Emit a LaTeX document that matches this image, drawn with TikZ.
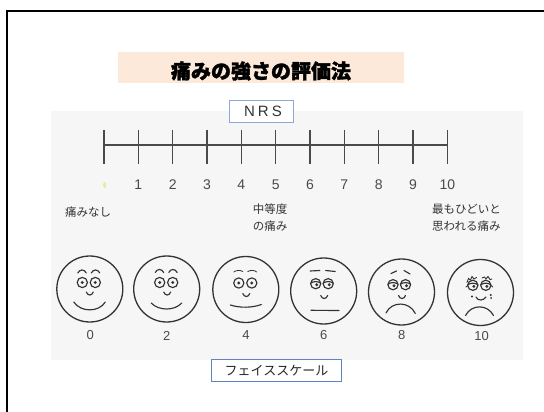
\documentclass[tikz,border=0pt]{standalone}
\usepackage{fontspec}
\newfontfamily\jpfont{Noto Sans CJK JP}
\newfontfamily\jptitlefont{Noto Sans CJK JP}[BoldFeatures={FakeBold=1.6}]
\newfontfamily\latfont{Liberation Sans}
\newfontfamily\nrsfont{Liberation Sans}[LetterSpace=20]
\definecolor{peach}{HTML}{FDE9D9}
\definecolor{panel}{HTML}{F6F6F6}
\definecolor{ink}{HTML}{333333}
\definecolor{numgray}{HTML}{4A4A4A}
\definecolor{nrsblue}{HTML}{8DAAD6}
\definecolor{scaleblue}{HTML}{5F84C4}
\definecolor{dotyellow}{HTML}{E4ED9C}

% eye with a centred pupil
\newcommand\plaineye[1]{%
  \begin{scope}[shift={(#1)}]
    \draw[featurestroke] (0,0) circle[radius=5.1pt];
    \fill[ink] (0,0) circle[radius=1.6pt];
  \end{scope}}
% half-closed eye: lid line across the top, pupil below it
\newcommand\lideye[1]{%
  \begin{scope}[shift={(#1)}]
    \draw[featurestroke] (0,0) circle[radius=5.1pt];
    \draw[featurestroke] (-5,-0.6) .. controls (-2,-2.6) and (2,-2.6) .. (5,-0.6);
    \fill[ink] (1,1.1) circle[radius=1.6pt];
  \end{scope}}

\begin{document}
\begin{tikzpicture}[x=1pt,y=-1pt,
  facestroke/.style={draw=ink, line width=1.3pt},
  featurestroke/.style={draw=ink, line width=1.15pt, line cap=round},
  axisline/.style={draw=numgray, line width=1.4pt},
  ticklabel/.style={font=\latfont\fontsize{14}{16}\selectfont, text=numgray, inner sep=0pt},
  facelabel/.style={font=\latfont\fontsize{13}{15}\selectfont, text=numgray, inner sep=0pt},
  jplabel/.style={font=\jpfont\fontsize{11.5}{16.7}\selectfont, text=ink, inner sep=0pt, align=left, anchor=west},
  captionbox/.style={fill=white, line width=0.9pt, inner sep=0pt}
]
\clip (0,0) rectangle (544,412);
\fill[white] (0,0) rectangle (544,412);

% slide frame, running off the right and bottom edges
\draw[line width=2pt, black] (7,430) -- (7,10.7) -- (560,10.7);

% title
\node[fill=peach, minimum width=286pt, minimum height=31pt, inner sep=0pt] (titlebox) at (261,67.5) {};
\node[font=\jptitlefont\bfseries\fontsize{20}{24}\selectfont, inner sep=0pt] (title) at (261,71) {痛みの強さの評価法};

% grey panel holding both scales
\fill[panel] (51,111) rectangle (522.6,360);

% NRS caption
\node[captionbox, draw=nrsblue, minimum width=64pt, minimum height=22.4pt] (nrs) at (261.3,111.5) {};
\node[font=\nrsfont\fontsize{15}{17}\selectfont, text=ink, inner sep=0pt] (nrstext) at (263,111.5) {NRS};

% numeric rating line
\foreach \i in {0,...,10} {
  \coordinate (t\i) at ({104+34.33*\i},145);
}
\draw[axisline] (t0) -- (t10);
\foreach \i in {0,...,10} {
  \draw[axisline] ([yshift=15pt]t\i) -- ([yshift=-19pt]t\i);
}
\foreach \i in {1,...,10} {
  \node[ticklabel] (n\i) at ({104+34.33*\i},185) {\i};
}
\fill[dotyellow] (104.7,185) ellipse [x radius=1.6pt, y radius=3pt];

% verbal anchors
\node[jplabel] (none) at (65,212) {痛みなし};
\node[jplabel] (mid) at (252.7,217.7) {中等度\\の痛み};
\node[jplabel] (worst) at (432,217.7) {最もひどいと\\思われる痛み};

% face 0
\begin{scope}[shift={(89.8,289)}]
  \draw[facestroke] (0,0) circle[radius=33pt];
  \plaineye{-7.5,-6.5}\plaineye{5.5,-6.5}
  \draw[featurestroke] (-12,-16) .. controls (-10,-20) and (-5.5,-20) .. (-3.5,-16);
  \draw[featurestroke] (1.5,-16) .. controls (3.5,-20) and (8,-20) .. (10,-16);
  \draw[featurestroke] (-3.5,3) .. controls (-2,7) and (2,7) .. (3.5,3);
  \draw[featurestroke] (-16,13) .. controls (-9,23.5) and (9,23.5) .. (15.5,13);
\end{scope}
\node[facelabel] (f0) at (90.3,335.5) {0};

% face 2
\begin{scope}[shift={(166.7,289)}]
  \draw[facestroke] (0,0) circle[radius=33pt];
  \plaineye{-7,-6.5}\plaineye{6,-6.5}
  \draw[featurestroke] (-11.5,-16.5) .. controls (-9.5,-20.5) and (-5,-20.5) .. (-3,-16.5);
  \draw[featurestroke] (2,-16.5) .. controls (4,-20.5) and (8.5,-20.5) .. (10.5,-16.5);
  \draw[featurestroke] (-3,3) .. controls (-1.5,7) and (2.5,7) .. (4,3);
  \draw[featurestroke] (-15.5,14) .. controls (-8,22) and (8,22) .. (15,14);
\end{scope}
\node[facelabel] (f2) at (166.7,335.5) {2};

% face 4
\begin{scope}[shift={(245.8,289.5)}]
  \draw[facestroke] (0,0) circle[radius=33pt];
  \plaineye{-7,-6.5}\plaineye{6,-6.5}
  \draw[featurestroke, line width=0.8pt] (-12,-17.5) .. controls (-9.5,-19.5) and (-5.5,-19.5) .. (-3,-18);
  \draw[featurestroke, line width=0.8pt] (2,-18) .. controls (4.5,-19.5) and (8.5,-19.5) .. (11,-17.5);
  \draw[featurestroke] (-3,4) .. controls (-1.5,8) and (2.5,8) .. (4,4);
  \draw[featurestroke] (-15.5,15.5) .. controls (-6,18.5) and (6,18.5) .. (15.5,15);
\end{scope}
\node[facelabel] (f4) at (246,335.5) {4};

% face 6
\begin{scope}[shift={(323.7,291)}]
  \draw[facestroke] (0,0) circle[radius=33pt];
  \lideye{-8,-7.3}\lideye{4.5,-7.3}
  \draw[featurestroke] (-13.5,-20) -- (-4,-20.5);
  \draw[featurestroke] (2,-20.5) -- (11.5,-19.5);
  \draw[featurestroke] (-3,4.5) .. controls (-1.5,8.5) and (2.5,8.5) .. (4,4.5);
  \draw[featurestroke] (-12.7,19.3) -- (15.3,19.5);
\end{scope}
\node[facelabel] (f6) at (323.7,335.5) {6};

% face 8
\begin{scope}[shift={(401.5,292)}]
  \draw[facestroke] (0,0) circle[radius=33pt];
  \lideye{-8.5,-7.3}\lideye{4,-7.3}
  \draw[featurestroke] (-10.5,-18.5) -- (-5,-21);
  \draw[featurestroke] (2.5,-21.5) -- (8.5,-18);
  \draw[featurestroke] (-3,3.5) .. controls (-1.5,7.5) and (2.5,7.5) .. (4,3.5);
  \draw[featurestroke] (-15.5,21) .. controls (-10,9) and (8,9) .. (13.8,21.5);
\end{scope}
\node[facelabel] (f8) at (401.8,335.5) {8};

% face 10
\begin{scope}[shift={(480.5,292.5)}]
  \draw[facestroke] (0,0) circle[radius=33pt];
  \lideye{-7.7,-7.2}\lideye{5.3,-7.2}
  \draw[featurestroke, line width=0.9pt] (-13.5,-10) -- (-12,-14) -- (-10,-12.5) -- (-8.5,-16) -- (-6.5,-13.5) -- (-4,-15);
  \draw[featurestroke, line width=0.9pt] (1.5,-14.5) -- (4,-15.5) -- (5.5,-13.5) -- (7.5,-16) -- (9.5,-13) -- (11.5,-13.5);
  \draw[featurestroke, line width=0.9pt] (-14.5,-5.5) -- (-12.8,-6.8);
  \draw[featurestroke, line width=0.9pt] (10.4,-7) -- (12.3,-5.5);
  \draw[featurestroke] (-4.5,4.5) .. controls (-3,8.5) and (3,8.5) .. (5.5,4.5);
  \fill[ink] (-8.5,4) circle[radius=1.1pt];
  \fill[ink] (10.3,2.5) circle[radius=1.1pt];
  \fill[ink] (10.6,5.5) circle[radius=1.1pt];
  \draw[featurestroke] (-15,23) .. controls (-9,11.5) and (7,11.5) .. (13,23);
\end{scope}
\node[facelabel] (f10) at (481.5,335.8) {10};

% face scale caption
\node[captionbox, draw=scaleblue, minimum width=130pt, minimum height=22pt] (fs) at (276.7,370.3) {};
\node[font=\jpfont\fontsize{13}{15}\selectfont, text=black!85, inner sep=0pt] (fstext) at (276.5,371) {フェイススケール};
\end{tikzpicture}
\end{document}
